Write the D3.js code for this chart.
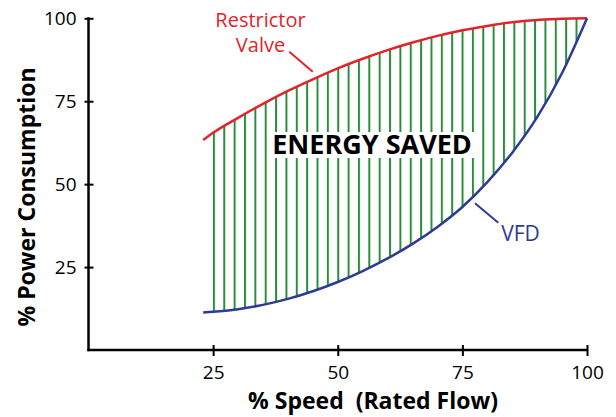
<!DOCTYPE html>
<html><head><meta charset="utf-8">
<script src="https://cdn.jsdelivr.net/npm/d3@7"></script>
<style>
html,body{margin:0;padding:0;background:#fff;}
text{font-family:"Open Sans","Noto Sans",sans-serif;}
</style></head>
<body><svg id="chart" width="616" height="417"></svg>
<script>
// Data
const speed = [23, 25, 30, 35, 40, 45, 50, 55, 60, 65, 70, 75, 80, 85, 90, 95, 100];
const valvePower = [63.3, 65.5, 70.0, 74.2, 78.1, 81.6, 84.9, 87.8, 90.4, 92.7, 94.7, 96.4, 97.7, 98.8, 99.5, 99.9, 100];
const vfdPower = [11.3, 11.5, 12.3, 13.6, 15.4, 17.7, 20.5, 23.8, 27.6, 32.0, 37.1, 43.1, 50.6, 59.5, 70.2, 83.5, 100];
const xTicks = [25, 50, 75, 100];
const yTicks = [25, 50, 75, 100];

const svg = d3.select("#chart");
const x = d3.scaleLinear().domain([0, 100]).range([88.5, 587]);
const y = d3.scaleLinear().domain([0, 100]).range([350, 18.3]);

const red = "#e3232c", blue = "#2d3b93", green = "#2b8c3d";

const rows = speed.map((s, i) => ({s, v: valvePower[i], f: vfdPower[i]}));

// hatch pattern
const defs = svg.append("defs");
const pat = defs.append("pattern").attr("id", "hatch")
  .attr("patternUnits", "userSpaceOnUse")
  .attr("x", x(25) - 0.2).attr("y", 0)
  .attr("width", 10.36).attr("height", 20);
pat.append("rect").attr("x", 0).attr("y", 0).attr("width", 2).attr("height", 20).attr("fill", green);
defs.append("clipPath").attr("id", "hclip").append("rect")
  .attr("x", x(24.6)).attr("y", 0).attr("width", 600).attr("height", 417);

const curve = d3.curveMonotoneX;
const area = d3.area().x(d => x(d.s)).y0(d => y(d.f)).y1(d => y(d.v)).curve(curve);
svg.append("path").datum(rows).attr("d", area).attr("fill", "url(#hatch)").attr("clip-path", "url(#hclip)");

// white box behind label
svg.append("rect").attr("x", 267).attr("y", 132).attr("width", 209).attr("height", 26).attr("fill", "#fff");
svg.append("text").attr("x", 372).attr("y", 154.3).attr("text-anchor", "middle")
  .attr("font-size", 27).attr("font-weight", 700).attr("fill", "#000")
  .text("ENERGY SAVED");

// curves
const lineV = d3.line().x(d => x(d.s)).y(d => y(d.v)).curve(curve);
const lineF = d3.line().x(d => x(d.s)).y(d => y(d.f)).curve(curve);
svg.append("path").datum(rows).attr("d", lineV).attr("fill", "none").attr("stroke", red).attr("stroke-width", 2.5);
svg.append("path").datum(rows).attr("d", lineF).attr("fill", "none").attr("stroke", blue).attr("stroke-width", 2.5);

// axes
const gx = svg.append("g").attr("transform", `translate(0,${y(0)})`)
  .call(d3.axisBottom(x).tickValues(xTicks).tickSize(6).tickSizeOuter(0).tickFormat(d3.format("d")));
const gy = svg.append("g").attr("transform", `translate(${x(0)},0)`)
  .call(d3.axisLeft(y).tickValues(yTicks).tickSize(4).tickSizeOuter(0).tickFormat(d3.format("d")));
[gx, gy].forEach(g => {
  g.select(".domain").attr("stroke", "#000").attr("stroke-width", 2.5);
  g.selectAll(".tick line").attr("stroke", "#000").attr("stroke-width", 2);
  g.selectAll(".tick text").attr("fill", "#000").attr("font-size", 19)
    .attr("font-family", "'Open Sans','Noto Sans',sans-serif");
});
gx.selectAll(".tick line").attr("y1", -5).attr("y2", 6);
gx.selectAll(".tick text").attr("y", 16).attr("dy", "0.71em");
gy.selectAll(".tick line").attr("x1", -4).attr("x2", 5);
gy.selectAll(".tick text").attr("x", -12).attr("dy", "0.35em");
gx.select(".domain").attr("d", `M${x(0)-1},0H${x(100)}`);
gy.select(".domain").attr("d", `M0,${y(100)-1}V${y(0)+1.2}`);

// axis titles
svg.append("text").attr("x", 373).attr("y", 409.3).attr("text-anchor", "middle")
  .attr("font-size", 23).attr("font-weight", 700).style("white-space", "pre")
  .text("% Speed  (Rated Flow)");
svg.append("text").attr("transform", "translate(34.5,197) rotate(-90)").attr("text-anchor", "middle")
  .attr("font-size", 23).attr("font-weight", 700)
  .text("% Power Consumption");

// annotations
svg.append("text").attr("x", 260.5).attr("y", 26.7).attr("text-anchor", "middle")
  .attr("font-size", 20).attr("fill", red).text("Restrictor");
svg.append("text").attr("x", 260.5).attr("y", 51.7).attr("text-anchor", "middle")
  .attr("font-size", 20).attr("fill", red).text("Valve");
svg.append("line").attr("x1", 289.3).attr("y1", 51.7).attr("x2", 312.7).attr("y2", 71.7)
  .attr("stroke", red).attr("stroke-width", 2);
svg.append("text").attr("x", 520.5).attr("y", 240.7).attr("text-anchor", "middle")
  .attr("font-size", 21).attr("fill", blue).text("VFD");
svg.append("line").attr("x1", 475).attr("y1", 203.3).attr("x2", 498.3).attr("y2", 222.7)
  .attr("stroke", blue).attr("stroke-width", 2);
</script></body></html>
